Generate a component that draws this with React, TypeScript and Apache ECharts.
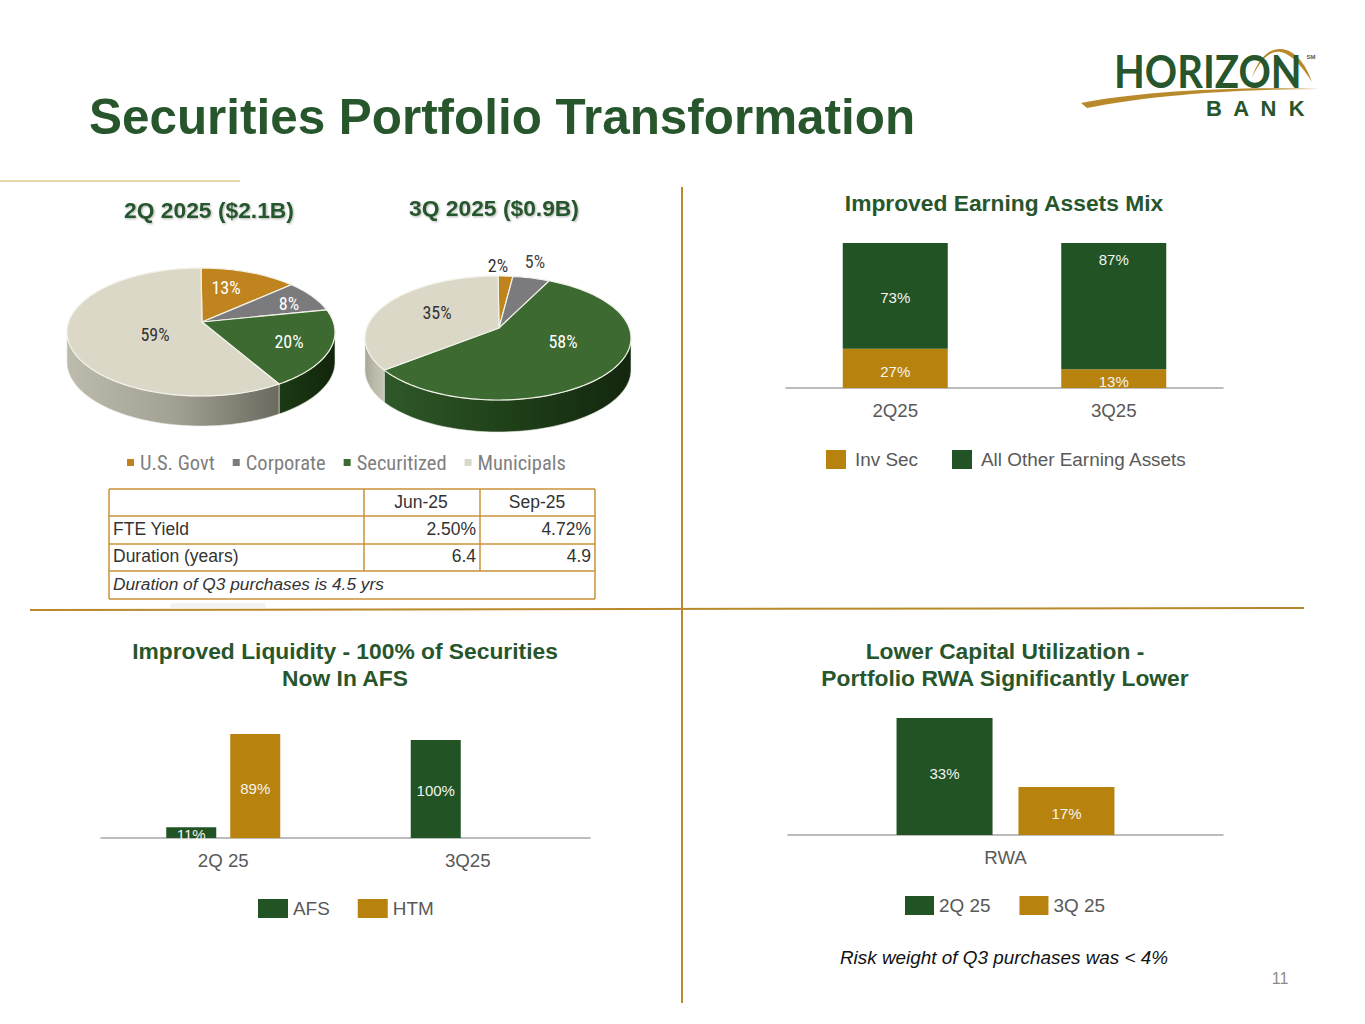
import React, { useEffect, useRef } from "react";
import * as echarts from "echarts";

// ---------- data ----------
const pieTitles = ["2Q 2025 ($2.1B)", "3Q 2025 ($0.9B)"];
const pieCategories = ["U.S. Govt", "Corporate", "Securitized", "Municipals"];
const pie2Q = [13, 8, 20, 59];
const pie3Q = [2, 5, 58, 35];

const mixCategories = ["2Q25", "3Q25"];
const invSec = [27, 13];
const otherAssets = [73, 87];

const liquidityCategories = ["2Q 25", "3Q25"];
const afs = [11, 100];
const htm: (number | null)[] = [89, null];

const rwaCategories = ["RWA"];
const rwa2Q = [33];
const rwa3Q = [17];

const tableHeader = ["", "Jun-25", "Sep-25"];
const tableRows = [
  ["FTE Yield", "2.50%", "4.72%"],
  ["Duration (years)", "6.4", "4.9"],
];
const tableNote = "Duration of Q3 purchases is 4.5 yrs";

// ---------- styles ----------
const GREEN = "#215324";
const GOLD = "#b8820f";
const HEAD = "#27562d";
const LINE = "#b98a2c";
const LABEL = "#f4f4f0";
const SANS = '"Liberation Sans", Arial, sans-serif';
const NARROW = '"Liberation Sans Narrow", "Roboto Condensed", Roboto, sans-serif';

const sliceColors = ["#c0841f", "#7b7b7d", "#3c6a30", "#dcd8c8"];
const pieShapes = [
  { cx: 201, cy: 332, rx: 134, ry: 64, apexY: 322, depth: 30 },
  { cx: 498, cy: 338, rx: 133, ry: 62, apexY: 328, depth: 32 },
];
const pieValues = [pie2Q, pie3Q];
// [x, y, colour] of each percent label, per pie and per category
const pieLabelSpots: [number, number, string][][] = [
  [[226, 287, "#fff"], [289, 303, "#fff"], [289, 341, "#fff"], [155, 334, "#333"]],
  [[498, 265, "#333"], [535, 261, "#444"], [563, 341, "#fff"], [437, 312, "#333"]],
];
const sideGradients: Record<string, [string, string, string]> = {
  "0-2": ["#1c3a15", "#17300f", "#11240c"],
  "0-3": ["#bdbbac", "#a3a194", "#6b6a5e"],
  "1-2": ["#2f5829", "#1f4019", "#13260e"],
  "1-3": ["#a8a698", "#bcbaab", "#c6c4b5"],
};

// the tilted disc is seen in perspective, so the angles narrow at the back
function warp(deg: number): number {
  return deg - 6 * Math.sin((deg * Math.PI) / 180);
}
function point(s: any, deg: number, dy = 0): number[] {
  const t = (deg * Math.PI) / 180;
  return [s.cx + s.rx * Math.sin(t), s.cy - s.ry * Math.cos(t) + dy];
}
function arc(s: any, a: number, b: number, dy = 0): number[][] {
  const n = Math.max(2, Math.ceil(Math.abs(b - a) / 2));
  const out: number[][] = [];
  for (let i = 0; i <= n; i++) out.push(point(s, a + ((b - a) * i) / n, dy));
  return out;
}

function pieItem(k: number) {
  return (_p: any, api: any) => {
    const pie = api.value(0) as number;
    const s = pieShapes[pie];
    const vals = pieValues[pie];
    const cum = vals.slice(0, k).reduce((a, b) => a + b, 0);
    const start = warp(cum * 3.6);
    const end = warp((cum + vals[k]) * 3.6);
    const children: any[] = [];
    const a = Math.max(start, 90);
    const b = Math.min(end, 270);
    if (b > a) {
      const g = sideGradients[`${pie}-${k}`];
      children.push({
        type: "polygon",
        shape: { points: [...arc(s, a, b), ...arc(s, b, a, s.depth)] },
        style: {
          fill: new echarts.graphic.LinearGradient(0, 0, 1, 0, [
            { offset: 0, color: g[0] },
            { offset: 0.5, color: g[1] },
            { offset: 1, color: g[2] },
          ]),
          stroke: "#e8e8e0",
          lineWidth: 0.6,
        },
      });
    }
    children.push({
      type: "polygon",
      shape: { points: [[s.cx + 1, s.apexY], ...arc(s, start, end)] },
      style: { fill: sliceColors[k], stroke: "#f2f2ea", lineWidth: 1.2 },
    });
    const spot = pieLabelSpots[pie][k];
    children.push({
      type: "text",
      x: spot[0],
      y: spot[1],
      style: {
        text: `${vals[k]}%`,
        fill: spot[2],
        font: `18px ${NARROW}`,
        align: "center",
        verticalAlign: "middle",
      },
    });
    return { type: "group", children };
  };
}

function txt(text: string, x: number, y: number, font: string, fill: string, align = "center", extra: any = {}) {
  return {
    type: "text",
    silent: true,
    x,
    y,
    style: { text, font, fill, align, verticalAlign: "middle", ...extra },
  };
}
function seg(x1: number, y1: number, x2: number, y2: number, stroke: string, lineWidth = 2) {
  return { type: "line", silent: true, shape: { x1, y1, x2, y2 }, style: { stroke, lineWidth } };
}

const LOGO_SWOOSH = "M1081 103 C1130 93 1225 86 1320 89 C1225 89 1140 97 1087 108 Z";
const LOGO_ARC = "M1252 78 C1258 58 1270 48 1281 49 C1295 50 1306 64 1312 82 C1303 68 1293 55 1281 52 C1270 50 1260 60 1252 78 Z";
echarts.graphic.registerShape("logoSwoosh", (echarts.graphic as any).extendPath(LOGO_SWOOSH, {}));
echarts.graphic.registerShape("logoArc", (echarts.graphic as any).extendPath(LOGO_ARC, {}));

function tableGraphics() {
  const L = 109, R = 595, C1 = 364, C2 = 480;
  const rows = [489, 516, 544, 571, 599];
  const out: any[] = [];
  rows.forEach((y) => out.push(seg(L, y, R, y, "#c8923a", 1.5)));
  out.push(seg(L, 489, L, 599, "#c8923a", 1.5), seg(R, 489, R, 599, "#c8923a", 1.5));
  out.push(seg(C1, 489, C1, 571, "#c8923a", 1.5), seg(C2, 489, C2, 571, "#c8923a", 1.5));
  const f = `17.5px ${SANS}`;
  out.push(txt(tableHeader[1], 421, 502, f, "#333"), txt(tableHeader[2], 537, 502, f, "#333"));
  tableRows.forEach((r, i) => {
    const y = 529 + i * 27;
    out.push(txt(r[0], 113, y, f, "#333", "left"), txt(r[1], 476, y, f, "#333", "right"), txt(r[2], 591, y, f, "#333", "right"));
  });
  out.push(txt(tableNote, 113, 584, `italic 17.3px ${SANS}`, "#333", "left"));
  return out;
}

function barLabel(extra: any = {}) {
  return { show: true, position: "inside", formatter: "{c}%", color: LABEL, fontSize: 15, fontFamily: SANS, ...extra };
}
function catAxis(gridIndex: number, data: string[]) {
  return {
    type: "category",
    gridIndex,
    data,
    axisTick: { show: false },
    axisLine: { lineStyle: { color: "#a6a6a6", width: 1.5 } },
    axisLabel: { color: "#595959", fontSize: 18.7, fontFamily: SANS, margin: 13 },
  };
}
function valAxis(gridIndex: number, max: number) {
  return { type: "value", gridIndex, min: 0, max, show: false };
}
function legendAt(data: string[], left: number, top: number, w: number, h: number, gap: number, extra: any = {}) {
  return {
    data,
    left,
    top,
    orient: "horizontal",
    icon: "rect",
    itemWidth: w,
    itemHeight: h,
    itemGap: gap,
    padding: 0,
    selectedMode: false,
    textStyle: { color: "#595959", fontSize: 18.9, fontFamily: SANS, ...extra },
  };
}

export default function App() {
  const ref = useRef<HTMLDivElement>(null);
  useEffect(() => {
    document.body.style.margin = "0";
    const chart = echarts.init(ref.current!, undefined, { renderer: "svg" });
    const headFont = `bold 22.8px ${SANS}`;
    const shadow = { textShadowColor: "rgba(0,0,0,0.3)", textShadowBlur: 2, textShadowOffsetX: 1, textShadowOffsetY: 1 };
    chart.setOption({
      animation: false,
      backgroundColor: "#fff",
      grid: [
        { left: 786, width: 437, top: 243, height: 145 },
        { left: 101, width: 489, top: 734, height: 104 },
        { left: 788, width: 435, top: 718, height: 117 },
      ],
      xAxis: [catAxis(0, mixCategories), catAxis(1, liquidityCategories), catAxis(2, rwaCategories)],
      yAxis: [valAxis(0, 100), valAxis(1, 106.1), valAxis(1, 89), valAxis(2, 33), valAxis(2, 41.4)],
      legend: [
        legendAt(pieCategories, 127, 452, 7, 7, 18, { color: "#7f7f7f", fontFamily: NARROW, fontSize: 20.5, padding: [0, 0, 0, 1] }),
        legendAt(["Inv Sec", "All Other Earning Assets"], 826, 450, 20, 19, 34, { padding: [0, 0, 0, 4] }),
        legendAt(["AFS", "HTM"], 258, 899, 30, 19, 28),
        legendAt(["2Q 25", "3Q 25"], 905, 896, 29, 19, 29),
      ],
      series: [
        ...pieCategories.map((name, k) => ({
          type: "custom",
          name,
          coordinateSystem: "none",
          silent: true,
          itemStyle: { color: sliceColors[k] },
          data: [
            [0, pie2Q[k]],
            [1, pie3Q[k]],
          ],
          renderItem: pieItem(k),
        })),
        {
          type: "bar",
          name: "Inv Sec",
          xAxisIndex: 0,
          yAxisIndex: 0,
          stack: "mix",
          barWidth: 105,
          itemStyle: { color: GOLD },
          label: barLabel({ offset: [0, 3] }),
          data: invSec,
        },
        {
          type: "bar",
          name: "All Other Earning Assets",
          xAxisIndex: 0,
          yAxisIndex: 0,
          stack: "mix",
          barWidth: 105,
          itemStyle: { color: GREEN },
          label: barLabel({ offset: [0, 2] }),
          data: [
            otherAssets[0],
            { value: otherAssets[1], label: { position: "insideTop", distance: 9, offset: [0, 0] } },
          ],
        },
        {
          type: "bar",
          name: "AFS",
          xAxisIndex: 1,
          yAxisIndex: 1,
          barWidth: 50,
          barGap: "28%",
          itemStyle: { color: GREEN },
          label: barLabel({ offset: [0, 2] }),
          data: afs,
        },
        {
          type: "bar",
          name: "HTM",
          xAxisIndex: 1,
          yAxisIndex: 2,
          barWidth: 50,
          barGap: "28%",
          itemStyle: { color: GOLD },
          label: barLabel({ offset: [0, 2] }),
          data: htm,
        },
        {
          type: "bar",
          name: "2Q 25",
          xAxisIndex: 2,
          yAxisIndex: 3,
          barWidth: 96,
          barGap: "27%",
          itemStyle: { color: GREEN },
          label: barLabel({ position: "inside", offset: [0, -3] }),
          data: rwa2Q,
        },
        {
          type: "bar",
          name: "3Q 25",
          xAxisIndex: 2,
          yAxisIndex: 4,
          barWidth: 96,
          barGap: "27%",
          itemStyle: { color: GOLD },
          label: barLabel({ offset: [0, 3] }),
          data: rwa3Q,
        },
      ],
      graphic: {
        elements: [
          txt("Securities Portfolio Transformation", 89, 116, `bold 49.4px ${SANS}`, HEAD, "left"),
          seg(0, 181, 240, 181, "#dcc98f", 1.5),
          seg(682, 187, 682, 1003, LINE, 2),
          seg(30, 610, 1304, 608, LINE, 2),
          { type: "rect", silent: true, shape: { x: 170, y: 603, width: 96, height: 5, r: 3 }, style: { fill: "#f3f3f3" } },
          txt(pieTitles[0], 209, 210, `bold 22.8px ${SANS}`, HEAD, "center", shadow),
          txt(pieTitles[1], 494, 208, `bold 22.8px ${SANS}`, HEAD, "center", shadow),
          txt("Improved Earning Assets Mix", 1004, 203, headFont, HEAD),
          txt("Improved Liquidity - 100% of Securities", 345, 651, headFont, HEAD),
          txt("Now In AFS", 345, 678, headFont, HEAD),
          txt("Lower Capital Utilization -", 1005, 651, headFont, HEAD),
          txt("Portfolio RWA Significantly Lower", 1005, 678, headFont, HEAD),
          txt("Risk weight of Q3 purchases was < 4%", 1004, 957, `italic 18.9px ${SANS}`, "#111"),
          txt("11", 1280, 978, `16px ${SANS}`, "#8c8c8c"),
          ...tableGraphics(),
          { type: "logoSwoosh", silent: true, style: { fill: "#b98a2c" } },
          { type: "logoArc", silent: true, style: { fill: "#b98a2c" } },
          {
            type: "text",
            silent: true,
            x: 1114,
            y: 71,
            scaleX: 0.89,
            style: { text: "HORIZON", font: `bold 45px Lato, ${SANS}`, fill: HEAD, align: "left", verticalAlign: "middle" },
          },
          txt("B  A  N  K", 1206, 108, `bold 22px ${SANS}`, HEAD, "left"),
          txt("SM", 1311, 57, `bold 6px ${SANS}`, "#555"),
        ],
      },
    } as any);
    return () => chart.dispose();
  }, []);
  return <div ref={ref} style={{ width: 1365, height: 1024, position: "absolute", left: 0, top: 0 }} />;
}
